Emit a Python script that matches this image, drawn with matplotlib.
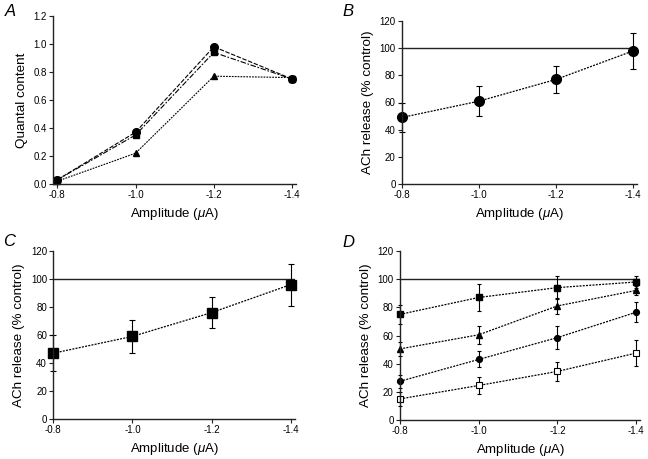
import numpy as np
import matplotlib
matplotlib.use('Agg')
import matplotlib.pyplot as plt

plt.rcParams['font.family'] = ['Liberation Sans', 'DejaVu Sans']
plt.rcParams['axes.unicode_minus'] = False
plt.rcParams['mathtext.fontset'] = 'custom'
plt.rcParams['mathtext.it'] = 'Liberation Sans:italic'
plt.rcParams['mathtext.rm'] = 'Liberation Sans'

# Stimulus amplitudes (uA)
amps = [-0.8, -1.0, -1.2, -1.4]

# Panel A: quantal content
qc_circle = [0.03, 0.37, 0.98, 0.75]
qc_square = [0.03, 0.35, 0.94, 0.75]
qc_triangle = [0.02, 0.22, 0.77, 0.76]

# Panel B
b_mean = [49, 61, 77, 98]
b_err = [10.5, 11.3, 10, 13]

# Panel C
c_mean = [47, 59, 76, 96]
c_err = [13, 11.5, 11, 15]

# Panel D
d_sq = [75, 87, 94, 98]
d_sq_err = [7, 9.5, 8, 4]
d_tri = [50.5, 60.5, 81, 92]
d_tri_err = [5, 6.5, 5.5, 3.5]
d_circ = [27.5, 43, 58.5, 76.5]
d_circ_err = [4.5, 5.7, 8, 7]
d_open = [15, 24.5, 34.5, 47.5]
d_open_err = [5, 6, 7, 9]

W, H = 648, 459
fig = plt.figure(figsize=(W / 100, H / 100), dpi=100)

dots = (0, (1.6, 1.0))


def make_ax(left, right, top, bottom):
    return fig.add_axes([left / W, 1 - bottom / H, (right - left) / W, (bottom - top) / H])


def style(ax, ylabel):
    for s in ['top', 'right']:
        ax.spines[s].set_visible(False)
    for s in ['left', 'bottom']:
        ax.spines[s].set_color('#222222')
        ax.spines[s].set_linewidth(1.0)
    ax.tick_params(direction='out', length=3, width=0.8, labelsize=7, pad=1.5, color='#222222')
    ax.set_xticks(amps)
    ax.set_xticklabels(['%.1f' % a for a in amps])
    ax.set_xlabel(r'Amplitude ($\mu$A)', fontsize=9.5, labelpad=4)
    ax.set_ylabel(ylabel, fontsize=9.7, labelpad=4)


axA = make_ax(53.4, 296, 16, 184)
axB = make_ax(402, 637, 21, 184)
axC = make_ax(53.3, 294.7, 251, 419)
axD = make_ax(400, 640, 251, 420)

# A
axA.plot(amps, qc_triangle, ls=dots, color='k', lw=0.8, marker='^', ms=4, clip_on=False)
axA.plot(amps, qc_square, ls=(0, (5, 1.5, 1.5, 1.5)), color='k', lw=0.8, marker='s', ms=5, clip_on=False)
axA.plot(amps, qc_circle, ls=(0, (4, 1.5)), color='k', lw=0.8, marker='o', ms=5.5, clip_on=False)
axA.set_xlim(-0.79, -1.41)
axA.set_ylim(0, 1.2)
axA.set_yticks(np.arange(0, 1.21, 0.2))
axA.set_yticklabels(['%.1f' % v for v in np.arange(0, 1.21, 0.2)])
style(axA, 'Quantal content')

pct_ticks = np.arange(0, 121, 20)

# B
axB.axhline(100, color='#222222', lw=1)
axB.errorbar(amps, b_mean, yerr=b_err, fmt='o', ls=dots, color='k', lw=0.9, ms=7,
             capsize=2.3, elinewidth=0.8, capthick=0.8, clip_on=False)
axB.set_xlim(-0.8, -1.41)
axB.set_ylim(0, 120)
axB.set_yticks(pct_ticks)
style(axB, 'ACh release (% control)')

# C
axC.axhline(100, color='#222222', lw=1)
axC.errorbar(amps, c_mean, yerr=c_err, fmt='s', ls=dots, color='k', lw=0.9, ms=6.7,
             capsize=2.3, elinewidth=0.8, capthick=0.8, clip_on=False)
axC.set_xlim(-0.8, -1.41)
axC.set_ylim(0, 120)
axC.set_yticks(pct_ticks)
style(axC, 'ACh release (% control)')

# D
axD.axhline(100, color='#222222', lw=1)
kw = dict(ls=dots, lw=0.9, capsize=1.6, elinewidth=0.8, capthick=0.8, clip_on=False)
axD.errorbar(amps, d_sq, yerr=d_sq_err, fmt='s', color='k', ms=4.2, **kw)
axD.errorbar(amps, d_tri, yerr=d_tri_err, fmt='^', color='k', ms=4.2, **kw)
axD.errorbar(amps, d_circ, yerr=d_circ_err, fmt='o', color='k', ms=4.2, **kw)
axD.errorbar(amps, d_open, yerr=d_open_err, fmt='s', color='k', mfc='white', mew=0.8, ms=4.5, **kw)
axD.set_xlim(-0.8, -1.41)
axD.set_ylim(0, 120)
axD.set_yticks(pct_ticks)
style(axD, 'ACh release (% control)')

# panel letters
for lab, x, y in [('A', 5, 4), ('B', 342, 4), ('C', 3, 234), ('D', 342, 235)]:
    fig.text(x / W, 1 - y / H, lab, fontsize=12, style='italic', va='top', ha='left')

fig.savefig('out.png', dpi=100)
